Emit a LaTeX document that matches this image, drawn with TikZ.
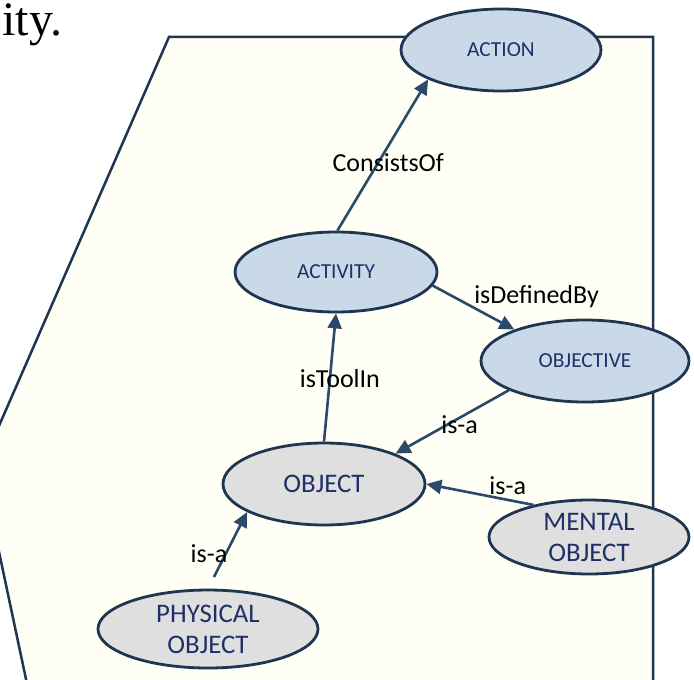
\documentclass[tikz,border=0pt]{standalone}
\usepackage{fontspec}
\setmainfont{Carlito}
\newfontfamily\bodyserif{Liberation Serif}
\usepackage{xcolor}
\usetikzlibrary{shapes.geometric,arrows.meta,positioning}

\definecolor{paneback}{HTML}{FFFFF5}
\definecolor{paneline}{HTML}{1F3550}
\definecolor{classblue}{HTML}{C9D9E8}
\definecolor{classgrey}{HTML}{DFDFDF}
\definecolor{classtext}{HTML}{1F3068}
\definecolor{relline}{HTML}{2B4A6A}

\begin{document}
\begin{tikzpicture}[
            x=0.5pt, y=-0.5pt,
            concept/.style={ellipse, draw=paneline, line width=1.4pt, inner sep=0pt,
                         align=center, text=classtext},
            upper/.style={concept, fill=classblue, font=\fontsize{10.7}{12}\selectfont},
            lower/.style={concept, fill=classgrey, font=\fontsize{13.4}{15.5}\selectfont},
            rel/.style={-{Triangle[length=7.5pt, width=7pt]}, line width=1.3pt, draw=relline},
            lbl/.style={font=\fontsize{13}{15}\selectfont, text=black}
        ]
            \useasboundingbox (0,0) rectangle (694,679);
            \clip (0,0) rectangle (694,679);

            % Page fragment and pane
            \node[anchor=base west, inner sep=0pt, font=\bodyserif\fontsize{24}{29}\selectfont] (tail) at (2,36) {ity.};
            \filldraw[fill=paneback, draw=paneline, line width=1.25pt]
                (169,37) -- (653,37) -- (653,690) -- (28.3,690) -- (-19,467) -- cycle;

            % Concepts
            \node[upper, minimum width=100pt, minimum height=41pt] (action) at (501,50) {ACTION};
            \node[upper, minimum width=101pt, minimum height=40pt] (activity) at (336,272) {ACTIVITY};
            \node[upper, minimum width=104pt, minimum height=41pt] (objective) at (585,361) {OBJECTIVE};
            \node[lower, minimum width=101pt, minimum height=41pt] (object) at (324,484) {OBJECT};
            \node[lower, minimum width=100pt, minimum height=37pt] (mental) at (589,537) {MENTAL\\OBJECT};
            \node[lower, minimum width=110pt, minimum height=39pt] (physical) at (208,629) {PHYSICAL\\OBJECT};

            % Relations
            \draw[rel] (activity.88) -- node[lbl, pos=0.45, xshift=5pt] {ConsistsOf} (action.202);
            \draw[rel] (activity.-8) -- node[lbl, pos=0.24, right=7pt] {isDefinedBy} (objective.156);
            \draw[rel] (object.north) -- node[lbl, pos=0.49, xshift=5pt] {isToolIn} (activity.south);
            \draw[rel] (objective.201) -- node[lbl, pos=0.54, xshift=6pt] {is-a} (object.23);
            \draw[rel] (mental.150) -- node[lbl, pos=0.24, yshift=7pt] {is-a} (object.east);
            \draw[rel, shorten <=6.5pt] (physical.north) -- node[lbl, pos=0.46, xshift=-8.5pt] {is-a} (object.200);
        \end{tikzpicture}
\end{document}
